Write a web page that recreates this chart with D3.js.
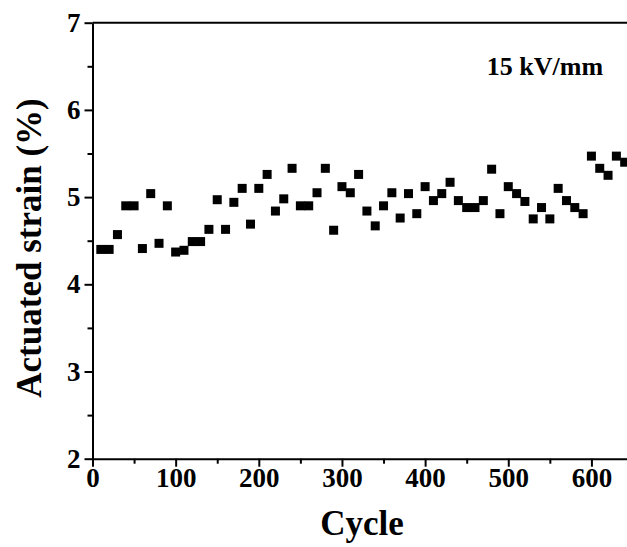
<!DOCTYPE html>
<html>
<head>
<meta charset="utf-8">
<script src="https://cdn.jsdelivr.net/npm/d3@7"></script>
<style>
  body { margin: 0; background: #fff; }
  svg { display: block; font-family: "Liberation Serif", "Times New Roman", serif; }
  .axis text { font-family: "Liberation Serif", "Times New Roman", serif; font-size: 27px; font-weight: bold; fill: #000; }
  .axis path, .axis line { stroke: #000; stroke-width: 2; }
</style>
</head>
<body>
<div id="chart"></div>
<script>
// cycle number of each measurement
const cycles = [10, 20, 30, 40, 50, 60, 70, 80, 90, 100,
  110, 120, 130, 140, 150, 160, 170, 180, 190, 200,
  210, 220, 230, 240, 250, 260, 270, 280, 290, 300,
  310, 320, 330, 340, 350, 360, 370, 380, 390, 400,
  410, 420, 430, 440, 450, 460, 470, 480, 490, 500,
  510, 520, 530, 540, 550, 560, 570, 580, 590, 600,
  610, 620, 630, 640];
// actuated strain (%) at 15 kV/mm
const strain = [4.40, 4.40, 4.57, 4.90, 4.90, 4.41, 5.04, 4.47, 4.90, 4.37,
  4.39, 4.49, 4.49, 4.63, 4.97, 4.63, 4.94, 5.10, 4.69, 5.10,
  5.26, 4.84, 4.98, 5.33, 4.90, 4.90, 5.05, 5.33, 4.62, 5.12,
  5.05, 5.26, 4.84, 4.67, 4.90, 5.05, 4.76, 5.04, 4.81, 5.12,
  4.96, 5.04, 5.17, 4.96, 4.88, 4.88, 4.96, 5.32, 4.81, 5.12,
  5.04, 4.95, 4.75, 4.88, 4.75, 5.10, 4.96, 4.88, 4.81, 5.47,
  5.33, 5.25, 5.47, 5.40];
const xTicks = [0, 100, 200, 300, 400, 500, 600];
const yTicks = [2, 3, 4, 5, 6, 7];

const width = 627, height = 547;
const margin = {top: 22.7, right: -6, bottom: 88.3, left: 92.5};

const svg = d3.select('#chart').append('svg')
  .attr('width', width).attr('height', height);

const x = d3.scaleLinear([0, 650], [margin.left, width - margin.right]);
const y = d3.scaleLinear([2, 7], [height - margin.bottom, margin.top]);

// minor ticks
const xMinor = d3.range(50, 650, 100);
const yMinor = d3.range(2.5, 7, 1);

svg.append('g').attr('class', 'axis')
  .attr('transform', `translate(0,${y(2)})`)
  .call(d3.axisBottom(x).tickValues(xMinor).tickSize(5).tickFormat(''))
  .call(g => g.select('.domain').remove());
svg.append('g').attr('class', 'axis')
  .attr('transform', `translate(${x(0)},0)`)
  .call(d3.axisLeft(y).tickValues(yMinor).tickSize(5).tickFormat(''))
  .call(g => g.select('.domain').remove());

svg.append('g').attr('class', 'axis')
  .attr('transform', `translate(0,${y(2)})`)
  .call(d3.axisBottom(x).tickValues(xTicks).tickSize(8).tickSizeOuter(0).tickPadding(1).tickFormat(d3.format('d')));
svg.append('g').attr('class', 'axis')
  .attr('transform', `translate(${x(0)},0)`)
  .call(d3.axisLeft(y).tickValues(yTicks).tickSize(8).tickSizeOuter(0).tickPadding(4).tickFormat(d3.format('d')));

// top frame line
svg.append('line')
  .attr('x1', x(0)).attr('x2', x(650))
  .attr('y1', y(7)).attr('y2', y(7))
  .attr('stroke', '#000').attr('stroke-width', 2);

// markers
const s = 9;
svg.append('g').selectAll('rect')
  .data(cycles.map((c, i) => [c, strain[i]]))
  .join('rect')
  .attr('x', d => x(d[0]) - s / 2)
  .attr('y', d => y(d[1]) - s / 2)
  .attr('width', s).attr('height', s)
  .attr('fill', '#000');

// labels
svg.append('text')
  .attr('x', 362).attr('y', 535)
  .attr('text-anchor', 'middle')
  .style('font-size', '35px').style('font-weight', 'bold')
  .text('Cycle');

svg.append('text')
  .attr('transform', 'translate(41,248)rotate(-90)')
  .attr('text-anchor', 'middle')
  .style('font-size', '35px').style('font-weight', 'bold')
  .text('Actuated strain (%)');

svg.append('text')
  .attr('x', 545).attr('y', 75)
  .attr('text-anchor', 'middle')
  .style('font-size', '26px').style('font-weight', 'bold')
  .text('15 kV/mm');
</script>
</body>
</html>
